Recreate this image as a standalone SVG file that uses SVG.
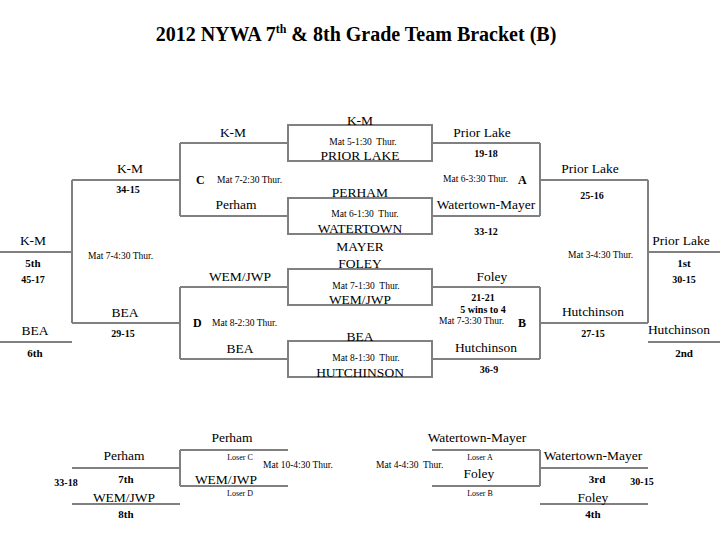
<svg xmlns="http://www.w3.org/2000/svg" width="720" height="540" viewBox="0 0 720 540">
<style>
.ln{stroke:#808080;stroke-width:2;fill:none}
text{font-family:"Liberation Serif","Times New Roman",serif;fill:#000}
.t{font-size:13.5px;text-anchor:middle}
.m{font-size:9.5px;white-space:pre}
.s{font-size:10px;font-weight:bold;text-anchor:middle}
.p{font-size:11px;font-weight:bold;text-anchor:middle}
.l{font-size:12px;font-weight:bold}
.x{font-size:8px;text-anchor:middle}
</style>
<rect width="720" height="540" fill="#fff"/>
<text x="356" y="41" font-size="20" font-weight="bold" text-anchor="middle">2012 NYWA 7<tspan font-size="12" dy="-8">th</tspan><tspan dy="8"> &amp; 8th Grade Team Bracket (B)</tspan></text>
<g id="connectors" class="ln">
<rect x="288" y="125" width="144" height="36"/>
<rect x="288" y="198" width="144" height="36"/>
<rect x="288" y="269" width="144" height="36"/>
<rect x="288" y="341" width="144" height="36"/>
<path d="M180 143H288M180 216H288M180 143V216M72 180H180M72 180V323M0 252H72M0 342H72"/>
<path d="M180 287H288M180 359H288M180 287V359M72 323H180"/>
<path d="M432 143H540M432 216H540M540 143V216M540 180H648M648 180V323M648 252H720M648 342H720"/>
<path d="M432 287H540M432 359H540M540 287V359M540 323H648"/>
<path d="M180 450H288M180 486H288M180 450V486M72 468H180M72 504H180"/>
<path d="M432 450H540M432 486H540M540 450V486M540 468H648M540 504H648"/>
</g>
<g id="match5">
<text class="t" x="360" y="125">K-M</text>
<text class="m" x="363" y="145" text-anchor="middle">Mat 5-1:30  Thur.</text>
<text class="t" x="360" y="160">PRIOR LAKE</text>
</g>
<g id="match6">
<text class="t" x="360" y="197">PERHAM</text>
<text class="m" x="365" y="217" text-anchor="middle">Mat 6-1:30  Thur.</text>
<text class="t" x="360" y="233">WATERTOWN</text>
<text class="t" x="360" y="251">MAYER</text>
</g>
<g id="match7">
<text class="t" x="360" y="268">FOLEY</text>
<text class="m" x="366" y="289" text-anchor="middle">Mat 7-1:30  Thur.</text>
<text class="t" x="360" y="304">WEM/JWP</text>
</g>
<g id="match8">
<text class="t" x="360" y="341">BEA</text>
<text class="m" x="366" y="361" text-anchor="middle">Mat 8-1:30  Thur.</text>
<text class="t" x="360" y="377">HUTCHINSON</text>
</g>
<g id="matchC">
<text class="t" x="233" y="137">K-M</text>
<text class="l" x="196" y="184">C</text>
<text class="m" x="217" y="183">Mat 7-2:30 Thur.</text>
<text class="t" x="236" y="209">Perham</text>
</g>
<g id="matchD">
<text class="t" x="240" y="281">WEM/JWP</text>
<text class="l" x="193" y="327">D</text>
<text class="m" x="212" y="326">Mat 8-2:30 Thur.</text>
<text class="t" x="240" y="353">BEA</text>
</g>
<g id="matchA">
<text class="t" x="482" y="137">Prior Lake</text>
<text class="s" x="486" y="157">19-18</text>
<text class="m" x="443" y="182">Mat 6-3:30 Thur.</text>
<text class="l" x="518" y="184">A</text>
<text class="t" x="486" y="209">Watertown-Mayer</text>
<text class="s" x="486" y="235">33-12</text>
</g>
<g id="matchB">
<text class="t" x="492" y="281">Foley</text>
<text class="s" x="483" y="301">21-21</text>
<text class="s" x="483" y="313">5 wins to 4</text>
<text class="m" x="439" y="324">Mat 7-3:30 Thur.</text>
<text class="l" x="518" y="327">B</text>
<text class="t" x="486" y="352">Hutchinson</text>
<text class="s" x="489" y="373">36-9</text>
</g>
<g id="match5th">
<text class="t" x="130" y="173">K-M</text>
<text class="s" x="128" y="193">34-15</text>
<text class="m" x="88" y="259">Mat 7-4:30 Thur.</text>
<text class="t" x="125" y="317">BEA</text>
<text class="s" x="123" y="337">29-15</text>
<text class="t" x="33" y="245">K-M</text>
<text class="p" x="33" y="267">5th</text>
<text class="s" x="33" y="283">45-17</text>
<text class="t" x="35" y="335">BEA</text>
<text class="p" x="35" y="357">6th</text>
</g>
<g id="matchFinal">
<text class="t" x="590" y="173">Prior Lake</text>
<text class="s" x="592" y="199">25-16</text>
<text class="m" x="568" y="258">Mat 3-4:30 Thur.</text>
<text class="t" x="593" y="316">Hutchinson</text>
<text class="s" x="593" y="337">27-15</text>
<text class="t" x="681" y="245">Prior Lake</text>
<text class="p" x="684" y="267">1st</text>
<text class="s" x="684" y="283">30-15</text>
<text class="t" x="679" y="334">Hutchinson</text>
<text class="p" x="684" y="357">2nd</text>
</g>
<g id="match10">
<text class="t" x="232" y="442">Perham</text>
<text class="x" x="240" y="460">Loser C</text>
<text class="m" x="263" y="468">Mat 10-4:30 Thur.</text>
<text class="t" x="226" y="484">WEM/JWP</text>
<text class="x" x="240" y="496">Loser D</text>
<text class="t" x="124" y="460">Perham</text>
<text class="p" x="126" y="483">7th</text>
<text class="s" x="66" y="486">33-18</text>
<text class="t" x="124" y="502">WEM/JWP</text>
<text class="p" x="126" y="518">8th</text>
</g>
<g id="match4">
<text class="t" x="477" y="442">Watertown-Mayer</text>
<text class="x" x="480" y="460">Loser A</text>
<text class="m" x="376" y="468">Mat 4-4:30  Thur.</text>
<text class="t" x="479" y="478">Foley</text>
<text class="x" x="480" y="496">Loser B</text>
<text class="t" x="593" y="460">Watertown-Mayer</text>
<text class="p" x="597" y="483">3rd</text>
<text class="s" x="642" y="485">30-15</text>
<text class="t" x="593" y="502">Foley</text>
<text class="p" x="593" y="518">4th</text>
</g>
</svg>
